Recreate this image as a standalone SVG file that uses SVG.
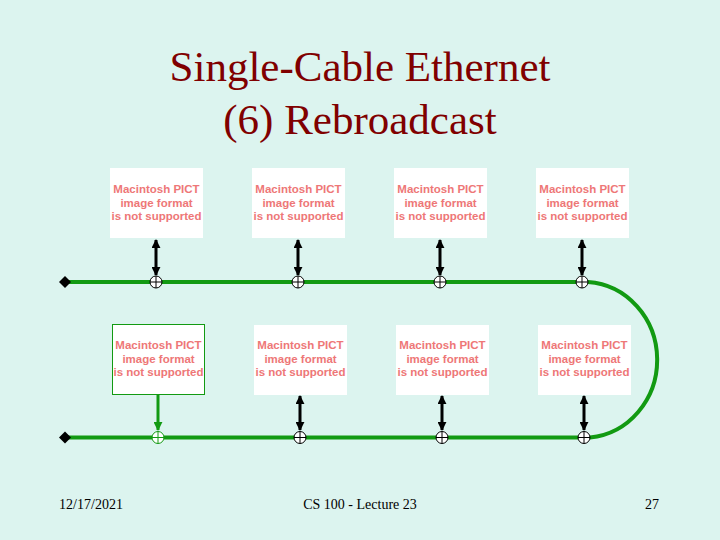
<svg xmlns="http://www.w3.org/2000/svg" width="720" height="540" viewBox="0 0 720 540">
<defs>
<style>
.title{font-family:"Liberation Serif","Times New Roman",serif;font-size:43px;fill:#800000;text-anchor:middle}
.foot{font-family:"Liberation Serif","Times New Roman",serif;font-size:14px;fill:#000;text-anchor:middle}
.pict{fill:#fff}
.pt{font-family:"Liberation Sans",Arial,sans-serif;font-size:11.5px;font-weight:bold;fill:#ee7777;text-anchor:middle}
.cable{fill:none;stroke:#129a12;stroke-width:4}
.arr{stroke:#000;stroke-width:3;fill:none}
.garr{stroke:#129a12;stroke-width:3;fill:none}
.tap{fill:#fff;stroke:#000;stroke-width:1}
.gtap{fill:#fff;stroke:#129a12;stroke-width:1}
</style>
<marker id="ah" viewBox="0 0 10 10" refX="9" refY="5" markerWidth="3" markerHeight="3" orient="auto-start-reverse"><path d="M0,0 L10,5 L0,10 z" fill="#000"/></marker>
<marker id="gah" viewBox="0 0 10 10" refX="9" refY="5" markerWidth="3" markerHeight="3" orient="auto"><path d="M0,0 L10,5 L0,10 z" fill="#129a12"/></marker>
<g id="tapsym"><circle cx="0" cy="0" r="6"/><path d="M-6,0 H6 M0,-6 V6"/></g>
</defs>
<rect width="720" height="540" fill="#dcf4ef"/>
<text class="title" x="360" y="81">Single-Cable Ethernet</text>
<text class="title" x="360" y="134">(6) Rebroadcast</text>

<g id="connectors">
<path class="cable" d="M66,282 H588 A74,78 0 0 1 590,437.5 H66"/>
<line class="arr" x1="156" y1="240" x2="156" y2="275" marker-start="url(#ah)" marker-end="url(#ah)"/>
<line class="arr" x1="298" y1="240" x2="298" y2="275" marker-start="url(#ah)" marker-end="url(#ah)"/>
<line class="arr" x1="440" y1="240" x2="440" y2="275" marker-start="url(#ah)" marker-end="url(#ah)"/>
<line class="arr" x1="582" y1="240" x2="582" y2="275" marker-start="url(#ah)" marker-end="url(#ah)"/>
<line class="garr" x1="158" y1="395" x2="158" y2="430" marker-end="url(#gah)"/>
<line class="arr" x1="300" y1="396" x2="300" y2="430" marker-start="url(#ah)" marker-end="url(#ah)"/>
<line class="arr" x1="442" y1="396" x2="442" y2="430" marker-start="url(#ah)" marker-end="url(#ah)"/>
<line class="arr" x1="584" y1="396" x2="584" y2="430" marker-start="url(#ah)" marker-end="url(#ah)"/>
</g>

<g id="terminators">
<path d="M59,282 L65,276 L71,282 L65,288 z" fill="#000"/>
<path d="M59,437.5 L65,431.5 L71,437.5 L65,443.5 z" fill="#000"/>
</g>

<g id="taps">
<use href="#tapsym" class="tap" x="156" y="282"/>
<use href="#tapsym" class="tap" x="298" y="282"/>
<use href="#tapsym" class="tap" x="440" y="282"/>
<use href="#tapsym" class="tap" x="582" y="282"/>
<use href="#tapsym" class="gtap" x="158" y="437.5"/>
<use href="#tapsym" class="tap" x="300" y="437.5"/>
<use href="#tapsym" class="tap" x="442" y="437.5"/>
<use href="#tapsym" class="tap" x="584" y="437.5"/>
</g>

<g id="host1"><rect class="pict" x="110" y="168" width="93" height="70"/><text class="pt" x="156.5" y="193">Macintosh PICT</text><text class="pt" x="156.5" y="206.5">image format</text><text class="pt" x="156.5" y="220">is not supported</text></g>
<g id="host2"><rect class="pict" x="252" y="168" width="93" height="70"/><text class="pt" x="298.5" y="193">Macintosh PICT</text><text class="pt" x="298.5" y="206.5">image format</text><text class="pt" x="298.5" y="220">is not supported</text></g>
<g id="host3"><rect class="pict" x="394" y="168" width="93" height="70"/><text class="pt" x="440.5" y="193">Macintosh PICT</text><text class="pt" x="440.5" y="206.5">image format</text><text class="pt" x="440.5" y="220">is not supported</text></g>
<g id="host4"><rect class="pict" x="536" y="168" width="93" height="70"/><text class="pt" x="582.5" y="193">Macintosh PICT</text><text class="pt" x="582.5" y="206.5">image format</text><text class="pt" x="582.5" y="220">is not supported</text></g>
<g id="host5"><rect class="pict" x="112.5" y="324.5" width="92" height="70" stroke="#129a12" stroke-width="1"/><text class="pt" x="158.5" y="349">Macintosh PICT</text><text class="pt" x="158.5" y="362.5">image format</text><text class="pt" x="158.5" y="376">is not supported</text></g>
<g id="host6"><rect class="pict" x="254" y="325" width="93" height="70"/><text class="pt" x="300.5" y="349">Macintosh PICT</text><text class="pt" x="300.5" y="362.5">image format</text><text class="pt" x="300.5" y="376">is not supported</text></g>
<g id="host7"><rect class="pict" x="396" y="325" width="93" height="70"/><text class="pt" x="442.5" y="349">Macintosh PICT</text><text class="pt" x="442.5" y="362.5">image format</text><text class="pt" x="442.5" y="376">is not supported</text></g>
<g id="host8"><rect class="pict" x="538" y="325" width="93" height="70"/><text class="pt" x="584.5" y="349">Macintosh PICT</text><text class="pt" x="584.5" y="362.5">image format</text><text class="pt" x="584.5" y="376">is not supported</text></g>

<text class="foot" x="91" y="509">12/17/2021</text>
<text class="foot" x="360" y="509">CS 100 - Lecture 23</text>
<text class="foot" x="652" y="509">27</text>
</svg>
